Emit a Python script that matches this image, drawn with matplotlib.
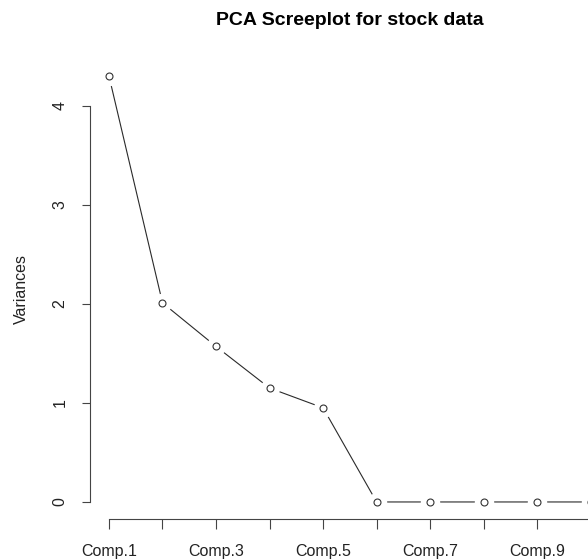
import numpy as np
import matplotlib.pyplot as plt

plt.rcParams['font.family'] = ['Liberation Sans', 'DejaVu Sans']

components = ["Comp.%d" % i for i in range(1, 11)]
variances = [4.30, 2.01, 1.57, 1.15, 0.95, 0.0, 0.0, 0.0, 0.0, 0.0]
yticks = [0, 1, 2, 3, 4]

x = np.arange(1, len(components) + 1)

W, H = 588, 560
fig = plt.figure(figsize=(W / 100, H / 100), dpi=100)
# plot region in pixels (R style, runs past the right edge)
left, right, top, bottom = 89.7, 610, 59, 519
ax = fig.add_axes([left / W, 1 - bottom / H, (right - left) / W, (bottom - top) / H])

# R-like 4% padding on both axes
xr = x.max() - x.min()
ax.set_xlim(x.min() - 0.04 * xr, x.max() + 0.04 * xr)
yr = max(variances) - min(variances)
ax.set_ylim(min(variances) - 0.04 * yr, max(variances) + 0.04 * yr)

# type="b": line broken around each point
ax.plot(x, variances, color="#2a2a2a", lw=0.8, zorder=1)
ax.plot(x, variances, ls="none", marker="o", ms=14, mfc="white", mec="none", zorder=2)
ax.plot(x, variances, ls="none", marker="o", ms=5, mfc="white", mec="#333333", mew=0.8, zorder=3)

for s in ["top", "right"]:
    ax.spines[s].set_visible(False)
ax.spines["left"].set_bounds(min(yticks), max(yticks))
ax.spines["bottom"].set_bounds(x.min(), x.max())
for s in ["left", "bottom"]:
    ax.spines[s].set_color("#444444")
    ax.spines[s].set_linewidth(0.8)

ax.set_yticks(yticks)
ax.set_yticklabels([str(v) for v in yticks], rotation=90, ha="center", va="center")
ax.set_xticks(x)
ax.set_xticklabels([c if i % 2 == 0 else "" for i, c in enumerate(components)])
ax.tick_params(axis="y", length=5.8, width=0.8, color="#444444", pad=15.5, labelsize=11.5, labelcolor="#222222")
ax.tick_params(axis="x", length=7, width=0.8, color="#444444", pad=11, labelsize=11.5, labelcolor="#222222")

ax.set_ylabel("Variances", fontsize=11.5, color="#222222")
ax.yaxis.set_label_coords((21 - left) / (right - left), 0.5)
ax.yaxis.label.set_va("center")

ax.set_title("PCA Screeplot for stock data", fontsize=14, fontweight="bold", pad=24.5)

fig.savefig("out.png", dpi=100)
